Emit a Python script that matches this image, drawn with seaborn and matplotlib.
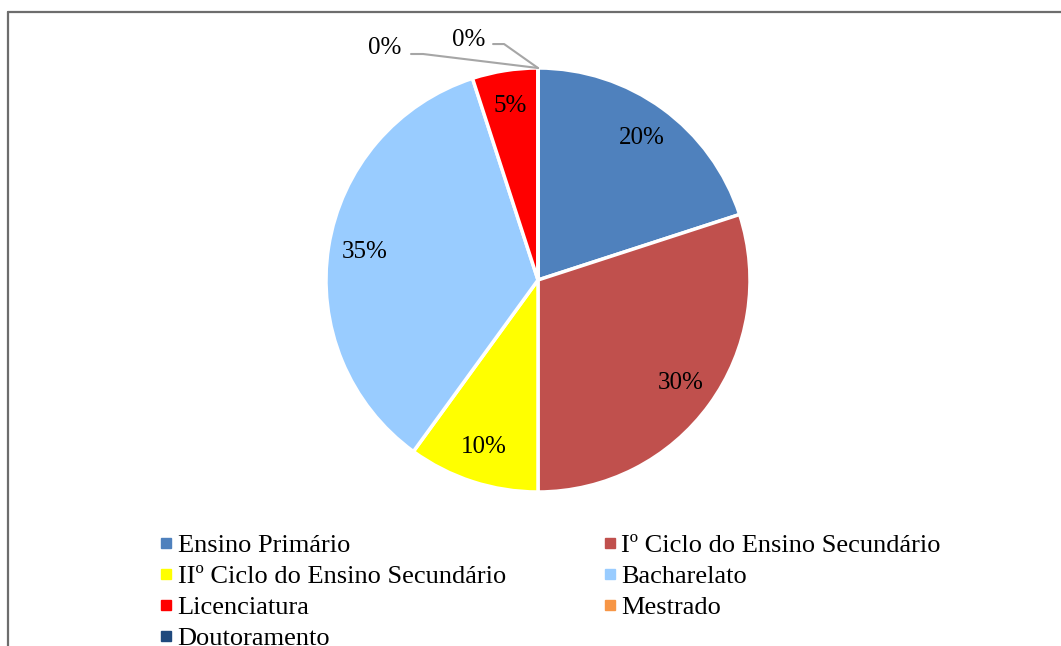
import matplotlib
matplotlib.use("Agg")
import matplotlib.pyplot as plt
from matplotlib.lines import Line2D
import seaborn as sns
import numpy as np

categories = ["Ensino Primário", "Iº Ciclo do Ensino Secundário",
              "IIº Ciclo do Ensino Secundário", "Bacharelato",
              "Licenciatura", "Mestrado", "Doutoramento"]
values = [20, 30, 10, 35, 5, 0, 0]
colors = ["#4F81BD", "#C0504D", "#FFFF00", "#99CCFF", "#FF0000", "#F79646", "#1F497D"]

sns.set_theme(style="white")
plt.rcParams["font.family"] = ["Liberation Serif", "DejaVu Serif"]
plt.rcParams["text.color"] = "black"

W, H = 1061, 646
fig = plt.figure(figsize=(W / 100, H / 100), dpi=100)
cx, cy, r = 538, 280, 212
ax = fig.add_axes([(cx - r) / W, (H - cy - r) / H, 2 * r / W, 2 * r / H])

palette = sns.color_palette(colors)
wedges, texts, autotexts = ax.pie(
    values, colors=palette, startangle=90, counterclock=False,
    autopct=lambda p: f"{p:.0f}%", pctdistance=0.83, radius=1.0,
    wedgeprops=dict(edgecolor="white", linewidth=2.5),
    textprops=dict(fontsize=18, color="black"))
ax.set_xlim(-1, 1)
ax.set_ylim(-1, 1)
ax.set_aspect("equal")

# zero slices: labels pulled out with leader lines
zero_pos = {5: ((-0.722, 1.094), [(-0.599, 1.066), (-0.542, 1.066)]),
            6: ((-0.325, 1.132), [(-0.212, 1.113), (-0.160, 1.113)])}
for i, (txt_xy, pts) in zero_pos.items():
    t = autotexts[i]
    t.set_position(txt_xy)
    t.set_clip_on(False)
    th = np.deg2rad(wedges[i].theta1)
    tip = (np.cos(th), np.sin(th))
    xs = [p[0] for p in pts] + [tip[0]]
    ys = [p[1] for p in pts] + [tip[1]]
    ax.plot(xs, ys, color="#a6a6a6", lw=1.5, clip_on=False)

order = [0, 2, 4, 6, 1, 3, 5]
handles = [Line2D([], [], marker="s", ls="", markersize=7,
                  markerfacecolor=colors[i], markeredgecolor=colors[i]) for i in order]
labels = [categories[i] for i in order]
fig.legend(handles, labels, loc="upper left", bbox_to_anchor=(150 / W, 1 - 523 / H),
           ncol=2, frameon=False, fontsize=19, handlelength=0.45, handletextpad=0.2,
           labelspacing=0.29, columnspacing=3.7, borderaxespad=0, labelcolor="black")

# outer border (left and top edges visible)
fig.add_artist(Line2D([8 / W, 8 / W], [0, 1 - 12 / H], transform=fig.transFigure,
                      color="#6d6d6d", lw=1.6))
fig.add_artist(Line2D([8 / W, 1], [1 - 12 / H, 1 - 12 / H], transform=fig.transFigure,
                      color="#6d6d6d", lw=1.6))

fig.savefig("out.png", dpi=100)
